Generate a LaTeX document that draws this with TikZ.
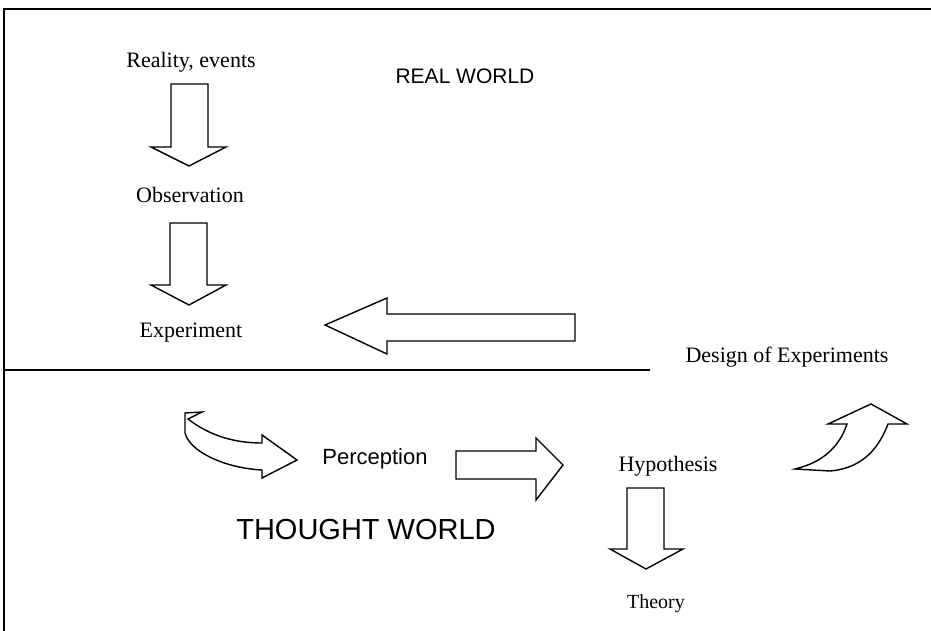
\documentclass[tikz,border=0pt]{standalone}
\usepackage{fontspec}
\setmainfont{Liberation Serif}
\setsansfont{Liberation Sans}
\usepackage{tikz}

\tikzset{
  label/.style={font=\fontsize{22}{26}\selectfont},
  world/.style={font=\sffamily\fontsize{21}{25}\selectfont},
  blockarrow/.style={draw, line width=1.4pt, fill=white, line join=miter}
}

\begin{document}
\begin{tikzpicture}[x=1pt, y=-1pt]
  \useasboundingbox (0,0) rectangle (931,631);
  % frame and divide
  \draw [line width=1.8pt] (4,631) -- (4,9) -- (931,9);
  \draw [line width=1.6pt] (4,370) -- (650,370);

  \node [world] (real) at (465,76) {REAL WORLD};
  \node [world, font=\sffamily\fontsize{29}{34}\selectfont] (thought) at (366,530) {THOUGHT WORLD};

  \node [label] (reality) at (191,62) {Reality, events};
  \node [label] (obs) at (190,195) {Observation};
  \node [label] (exp) at (191,333) {Experiment};
  \node [world, font=\sffamily\fontsize{22}{26}\selectfont] (perc) at (375,459) {Perception};
  \node [label] (hyp) at (668,466) {Hypothesis};
  \node [label] (design) at (787,357) {Design of Experiments};
  \node [label, font=\fontsize{20}{24}\selectfont] (theory) at (656,604) {Theory};

  % straight block arrows
  \draw [blockarrow] (171,84) -- (208,84) -- (208,147) -- (226,147) -- (189,166) -- (151,147) -- (171,147) -- cycle;
  \draw [blockarrow] (170,223) -- (207,223) -- (207,285) -- (226,285) -- (189,305) -- (151,285) -- (170,285) -- cycle;
  \draw [blockarrow] (575,314) -- (387,314) -- (387,298) -- (325,325) -- (387,354) -- (387,341) -- (575,341) -- cycle;
  \draw [blockarrow] (456,451) -- (536,451) -- (536,438) -- (563,465) -- (536,500) -- (536,479) -- (456,479) -- cycle;
  \draw [blockarrow] (627,488) -- (664,488) -- (664,549) -- (683,549) -- (646,569) -- (610,549) -- (627,549) -- cycle;

  % curved block arrows
  \draw [blockarrow] (202,412) -- (188,419) .. controls (210,436) and (235,443) .. (262,443) -- (262,435) -- (297,460)
    -- (262,478) -- (262,470) .. controls (225,468) and (190,452) .. (185,433) -- (185,413) -- cycle;
  \draw [blockarrow] (795,469) -- (830,471) .. controls (865,468) and (880,445) .. (888,424) -- (907,424) -- (871,404)
    -- (828,424) -- (847,424) .. controls (840,445) and (825,460) .. (802,467) -- cycle;
\end{tikzpicture}
\end{document}
